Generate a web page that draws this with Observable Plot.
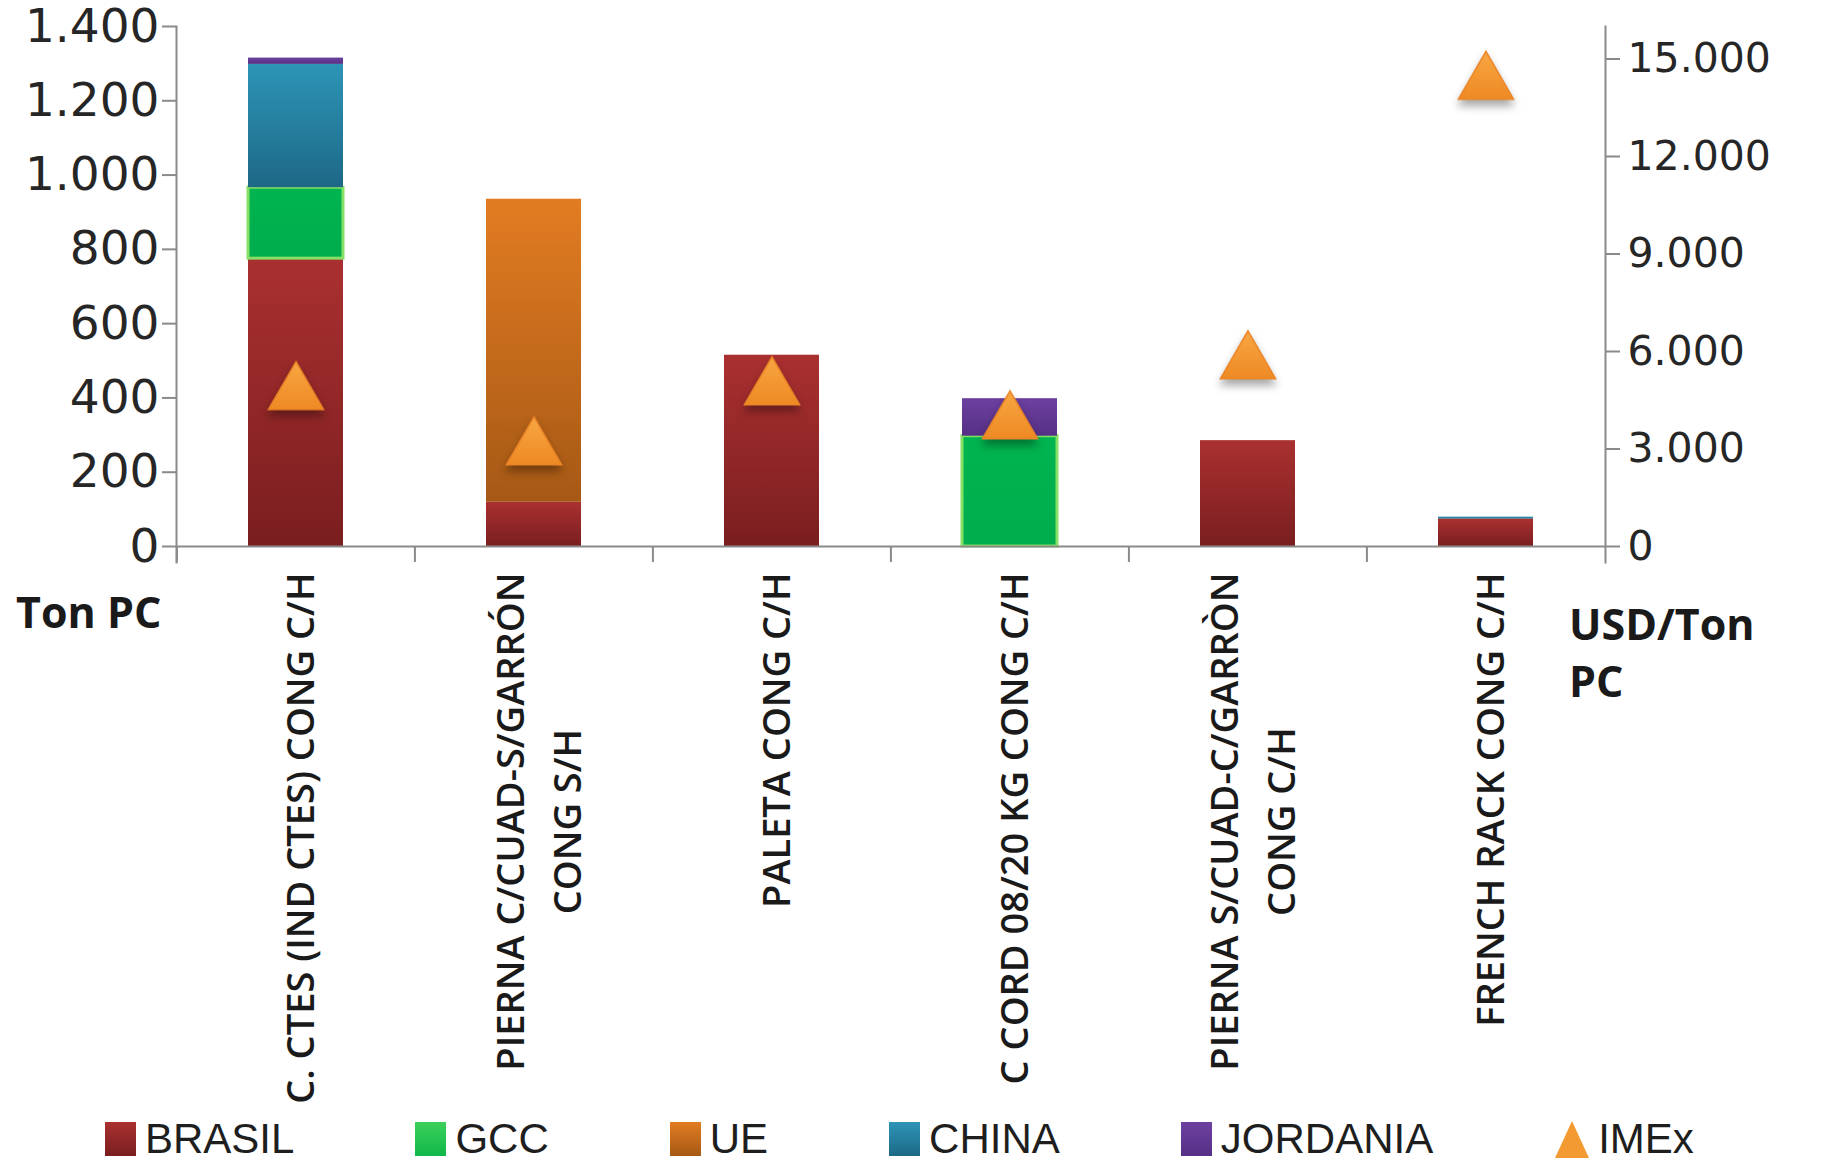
<!DOCTYPE html>
<html>
<head>
<meta charset="utf-8">
<script src="https://cdn.jsdelivr.net/npm/d3@7"></script>
<script src="https://cdn.jsdelivr.net/npm/@observablehq/plot@0.6"></script>
<style>
  body { margin: 0; background: #ffffff; }
  #wrap { position: relative; width: 1822px; height: 1165px; overflow: hidden; background: #fff; font-family: "Open Sans", sans-serif; }
  .atitle { position: absolute; font-family: "Open Sans", sans-serif; font-weight: 700; font-size: 43px; color: #1a1a1a; line-height: 57px; white-space: nowrap; }
  #legend { position: absolute; left: 105px; top: 1118px; height: 42px; display: flex; align-items: center; gap: 121px; }
  .li { display: flex; align-items: center; height: 42px; font-family: "Liberation Sans Narrow", "Liberation Sans", sans-serif; font-size: 42px; line-height: 42px; color: #1e1e1e; white-space: nowrap; }
  .sw { width: 31px; height: 34px; margin-right: 9px; }
</style>
</head>
<body>
<div id="wrap"></div>
<script>
// ---- data ----
const categoryLabels = [
  "C. CTES (IND CTES) CONG C/H",
  "PIERNA C/CUAD-S/GARRÓN\nCONG S/H",
  "PALETA CONG C/H",
  "C CORD 08/20 KG CONG C/H",
  "PIERNA S/CUAD-C/GARRÒN\nCONG C/H",
  "FRENCH RACK CONG C/H"
];
const seriesNames = ["BRASIL", "GCC", "UE", "CHINA", "JORDANIA"];
const brasil   = [775, 119, 515,   0, 285, 74];
const gcc      = [191,   0,   0, 297,   0,  0];
const ue       = [  0, 816,   0,   0,   0,  0];
const china    = [332,   0,   0,   0,   0,  5];
const jordania = [ 17,   0,   0, 101,   0,  0];
const imex     = [4950, 3250, 5100, 4050, 5900, 14500];   // USD/Ton PC (right axis)
const leftTicks  = [0, 200, 400, 600, 800, 1000, 1200, 1400];
const rightTicks = [0, 3000, 6000, 9000, 12000, 15000];
const leftMax = 1400, rightMax = 16000;

// ---- build tables ----
const seriesValues = {BRASIL: brasil, GCC: gcc, UE: ue, CHINA: china, JORDANIA: jordania};
const rows = [];
for (const s of seriesNames) {
  seriesValues[s].forEach((v, i) => { if (v > 0) rows.push({cat: categoryLabels[i], series: s, value: v}); });
}
const k = leftMax / rightMax;
const imexRows = categoryLabels.map((c, i) => ({cat: c, v: imex[i]}));

const fmt = d3.formatLocale({decimal: ",", thousands: ".", grouping: [3], currency: ["", ""]}).format(",d");

// ---- layout ----
const W = 1822, H = 1110, mL = 176, mR = 217, mT = 26, mB = 564;
const step = (W - mL - mR) / categoryLabels.length;
const r = 20.5;
const triOffset = Math.sqrt(Math.PI * r * r / (3 * Math.sqrt(3))) / 2; // put bbox centre on value
const labelSize = 38;
const labelFont = `600 ${labelSize}px 'Open Sans'`;
const ctx = document.createElement("canvas").getContext("2d");
ctx.font = labelFont;
const labelLen = l => Math.max(...l.split("\n").map(t => ctx.measureText(t).width));

const gradIds = {BRASIL: "gB", GCC: "gG", UE: "gU", CHINA: "gC", JORDANIA: "gJ"};

const labelMarks = categoryLabels.map(l => Plot.text([l], {
  x: d => d, frameAnchor: "bottom", rotate: -90, textAnchor: "middle", lineAnchor: "middle",
  lineHeight: 1.5, fontSize: labelSize, fontWeight: 600, fontFamily: "Open Sans", fill: "#1a1a1a",
  dy: 26 + labelLen(l) / 2
}));

const plot = Plot.plot({
  width: W, height: H,
  marginLeft: mL, marginRight: mR, marginTop: mT, marginBottom: mB,
  style: {fontFamily: "DejaVu Sans", fontSize: "44px", background: "transparent", overflow: "visible"},
  x: {domain: categoryLabels, paddingInner: 0.6, paddingOuter: 0.3, label: null},
  y: {domain: [0, leftMax], label: null},
  color: {domain: seriesNames, range: seriesNames.map(s => `url(#${gradIds[s]})`)},
  opacity: {domain: [0, 1], range: [0, 1]},
  marks: [
    Plot.barY(rows, Plot.stackY({
      x: "cat", y: "value", z: "series", fill: "series",
      stroke: "#86E066", strokeWidth: 3, strokeOpacity: d => d.series === "GCC" ? 1 : 0
    })),
    Plot.ruleY([0], {stroke: "#8a8a8a", strokeWidth: 2}),
    Plot.frame({anchor: "left", stroke: "#8a8a8a", strokeWidth: 2, insetBottom: -16}),
    Plot.frame({anchor: "right", stroke: "#8a8a8a", strokeWidth: 2, insetBottom: -16}),
    Plot.axisX({ticks: categoryLabels, tickFormat: () => "", label: null, tickSize: 16, dx: -step / 2, stroke: "#8a8a8a", strokeWidth: 2}),
    Plot.axisY({anchor: "left", ticks: leftTicks, tickFormat: fmt, label: null, tickSize: 14, tickPadding: 3,
      stroke: "#8a8a8a", strokeWidth: 2, fill: "#262626", fontSize: 47}),
    Plot.axisY({anchor: "right", ticks: rightTicks.map(v => v * k), tickFormat: d => fmt(Math.round(d / k)), label: null,
      tickSize: 14, tickPadding: 8, stroke: "#8a8a8a", strokeWidth: 2, fill: "#262626", fontSize: 41}),
    Plot.dot(imexRows, {x: "cat", y: d => d.v * k, symbol: "triangle", r, fill: "url(#gT)",
      stroke: "#EA8426", strokeWidth: 1.5, dy: triOffset}),
    ...labelMarks
  ]
});

// gradients
const NS = "http://www.w3.org/2000/svg";
const defs = document.createElementNS(NS, "defs");
const grads = {
  gB: ["#AA3030", "#7A1E1F"],
  gG: ["#00B550", "#00AC4C"],
  gU: ["#E27C22", "#A65915"],
  gC: ["#2D95B7", "#1D6886"],
  gJ: ["#6D40A0", "#553085"],
  gT: ["#F8A743", "#EE8A24"]
};
for (const [id, [c1, c2]] of Object.entries(grads)) {
  const g = document.createElementNS(NS, "linearGradient");
  g.setAttribute("id", id); g.setAttribute("x1", "0"); g.setAttribute("y1", "0"); g.setAttribute("x2", "0"); g.setAttribute("y2", "1");
  [[0, c1], [1, c2]].forEach(([o, c]) => {
    const st = document.createElementNS(NS, "stop");
    st.setAttribute("offset", o); st.setAttribute("stop-color", c);
    g.appendChild(st);
  });
  defs.appendChild(g);
}
plot.insertBefore(defs, plot.firstChild);
plot.querySelectorAll('g[aria-label="dot"]').forEach(g => g.style.filter = "drop-shadow(0px 6px 4px rgba(0,0,0,0.35))");
plot.style.position = "absolute"; plot.style.left = "0"; plot.style.top = "0";

const wrap = document.getElementById("wrap");
wrap.appendChild(plot);

// axis titles
const t1 = document.createElement("div"); t1.className = "atitle"; t1.textContent = "Ton PC";
t1.style.left = "16px"; t1.style.top = "583px"; wrap.appendChild(t1);
const t2 = document.createElement("div"); t2.className = "atitle"; t2.innerHTML = "USD/Ton<br>PC";
t2.style.left = "1569px"; t2.style.top = "595px"; wrap.appendChild(t2);

// legend
const legendColors = {BRASIL: grads.gB, GCC: ["#3CD05A", "#10B84A"], UE: grads.gU, CHINA: grads.gC, JORDANIA: grads.gJ};
const leg = document.createElement("div"); leg.id = "legend";
for (const s of seriesNames) {
  const it = document.createElement("div"); it.className = "li";
  const sw = document.createElement("div"); sw.className = "sw";
  sw.style.background = `linear-gradient(${legendColors[s][0]}, ${legendColors[s][1]})`;
  it.appendChild(sw); it.appendChild(document.createTextNode(s)); leg.appendChild(it);
}
const it = document.createElement("div"); it.className = "li";
it.innerHTML = `<svg width="36" height="40" style="margin-right:8px"><polygon points="18,2 35,39 1,39" fill="#F39A33"/></svg>IMEx`;
leg.appendChild(it);
wrap.appendChild(leg);
</script>
</body>
</html>
